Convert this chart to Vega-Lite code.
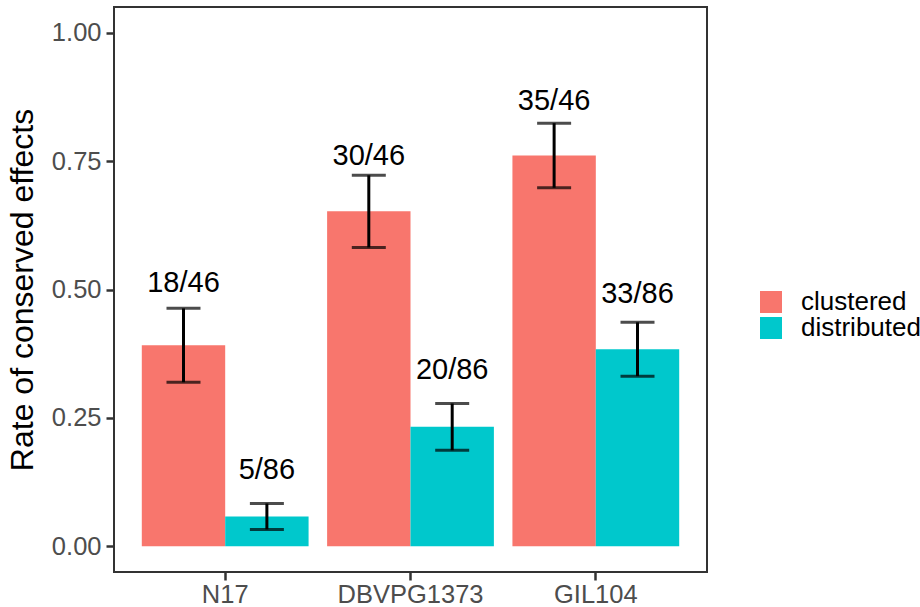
{
  "$schema": "https://vega.github.io/schema/vega-lite/v6.json",
  "width": 593,
  "height": 565,
  "autosize": {"type": "none"},
  "padding": {"left": 114, "top": 7, "right": 213, "bottom": 35},
  "background": "white",
  "config": {
    "font": "Liberation Sans",
    "view": {"stroke": "#333333", "strokeWidth": 2},
    "axis": {"grid": false, "domain": false, "tickColor": "#333333", "tickWidth": 2.5, "tickSize": 8,
             "labelColor": "#4D4D4D", "labelFont": "Liberation Sans", "labelFontSize": 25.5,
             "titleFont": "Liberation Sans", "titleFontWeight": "normal", "titleColor": "black"}
  },
  "data": {
    "values": [
      {"strain": "N17", "group": "clustered", "rate": 0.3913, "lo": 0.3194, "hi": 0.4633, "label": "18/46", "label_y": 0.495},
      {"strain": "N17", "group": "distributed", "rate": 0.0581, "lo": 0.0329, "hi": 0.0834, "label": "5/86", "label_y": 0.132},
      {"strain": "DBVPG1373", "group": "clustered", "rate": 0.6522, "lo": 0.5819, "hi": 0.7224, "label": "30/46", "label_y": 0.743},
      {"strain": "DBVPG1373", "group": "distributed", "rate": 0.2326, "lo": 0.1870, "hi": 0.2781, "label": "20/86", "label_y": 0.325},
      {"strain": "GIL104", "group": "clustered", "rate": 0.7609, "lo": 0.6980, "hi": 0.8238, "label": "35/46", "label_y": 0.849},
      {"strain": "GIL104", "group": "distributed", "rate": 0.3837, "lo": 0.3313, "hi": 0.4361, "label": "33/86", "label_y": 0.474}
    ]
  },
  "encoding": {
    "x": {"field": "strain", "type": "nominal", "sort": ["N17", "DBVPG1373", "GIL104"],
          "scale": {"paddingInner": 0.1, "paddingOuter": 0.15},
          "axis": {"title": null, "labelAngle": 0, "labelPadding": 2}},
    "xOffset": {"field": "group", "type": "nominal", "sort": ["clustered", "distributed"], "scale": {"paddingInner": 0, "paddingOuter": 0}}
  },
  "layer": [
    {
      "mark": {"type": "bar"},
      "encoding": {
        "y": {"field": "rate", "type": "quantitative",
              "scale": {"domain": [-0.05, 1.05], "nice": false, "zero": false},
              "axis": {"title": "Rate of conserved effects", "titleFontSize": 32, "values": [0, 0.25, 0.5, 0.75, 1], "format": ".2f", "labelPadding": 5, "titlePadding": 12}},
        "y2": {"datum": 0},
        "color": {"field": "group", "type": "nominal",
                  "scale": {"domain": ["clustered", "distributed"], "range": ["#F8766D", "#00C8CC"]},
                  "legend": {"title": null, "orient": "none", "legendX": 644, "legendY": 282, "symbolType": "square",
                             "symbolSize": 484, "symbolStrokeWidth": 0, "symbolOpacity": 1, "labelFontSize": 26, "labelColor": "black",
                             "labelFont": "Liberation Sans", "rowPadding": -4, "labelOffset": 17, "padding": 0}}
      }
    },
    {
      "mark": {"type": "rule", "color": "black", "strokeWidth": 3},
      "encoding": {
        "y": {"field": "lo", "type": "quantitative"},
        "y2": {"field": "hi"}
      }
    },
    {
      "mark": {"type": "tick", "color": "black", "thickness": 3, "size": 34, "orient": "horizontal"},
      "encoding": {"y": {"field": "lo", "type": "quantitative"}}
    },
    {
      "mark": {"type": "tick", "color": "black", "thickness": 3, "size": 34, "orient": "horizontal"},
      "encoding": {"y": {"field": "hi", "type": "quantitative"}}
    },
    {
      "mark": {"type": "text", "fontSize": 29, "baseline": "alphabetic", "align": "center", "color": "black", "font": "Liberation Sans"},
      "encoding": {
        "y": {"field": "label_y", "type": "quantitative"},
        "text": {"field": "label"}
      }
    }
  ]
}
